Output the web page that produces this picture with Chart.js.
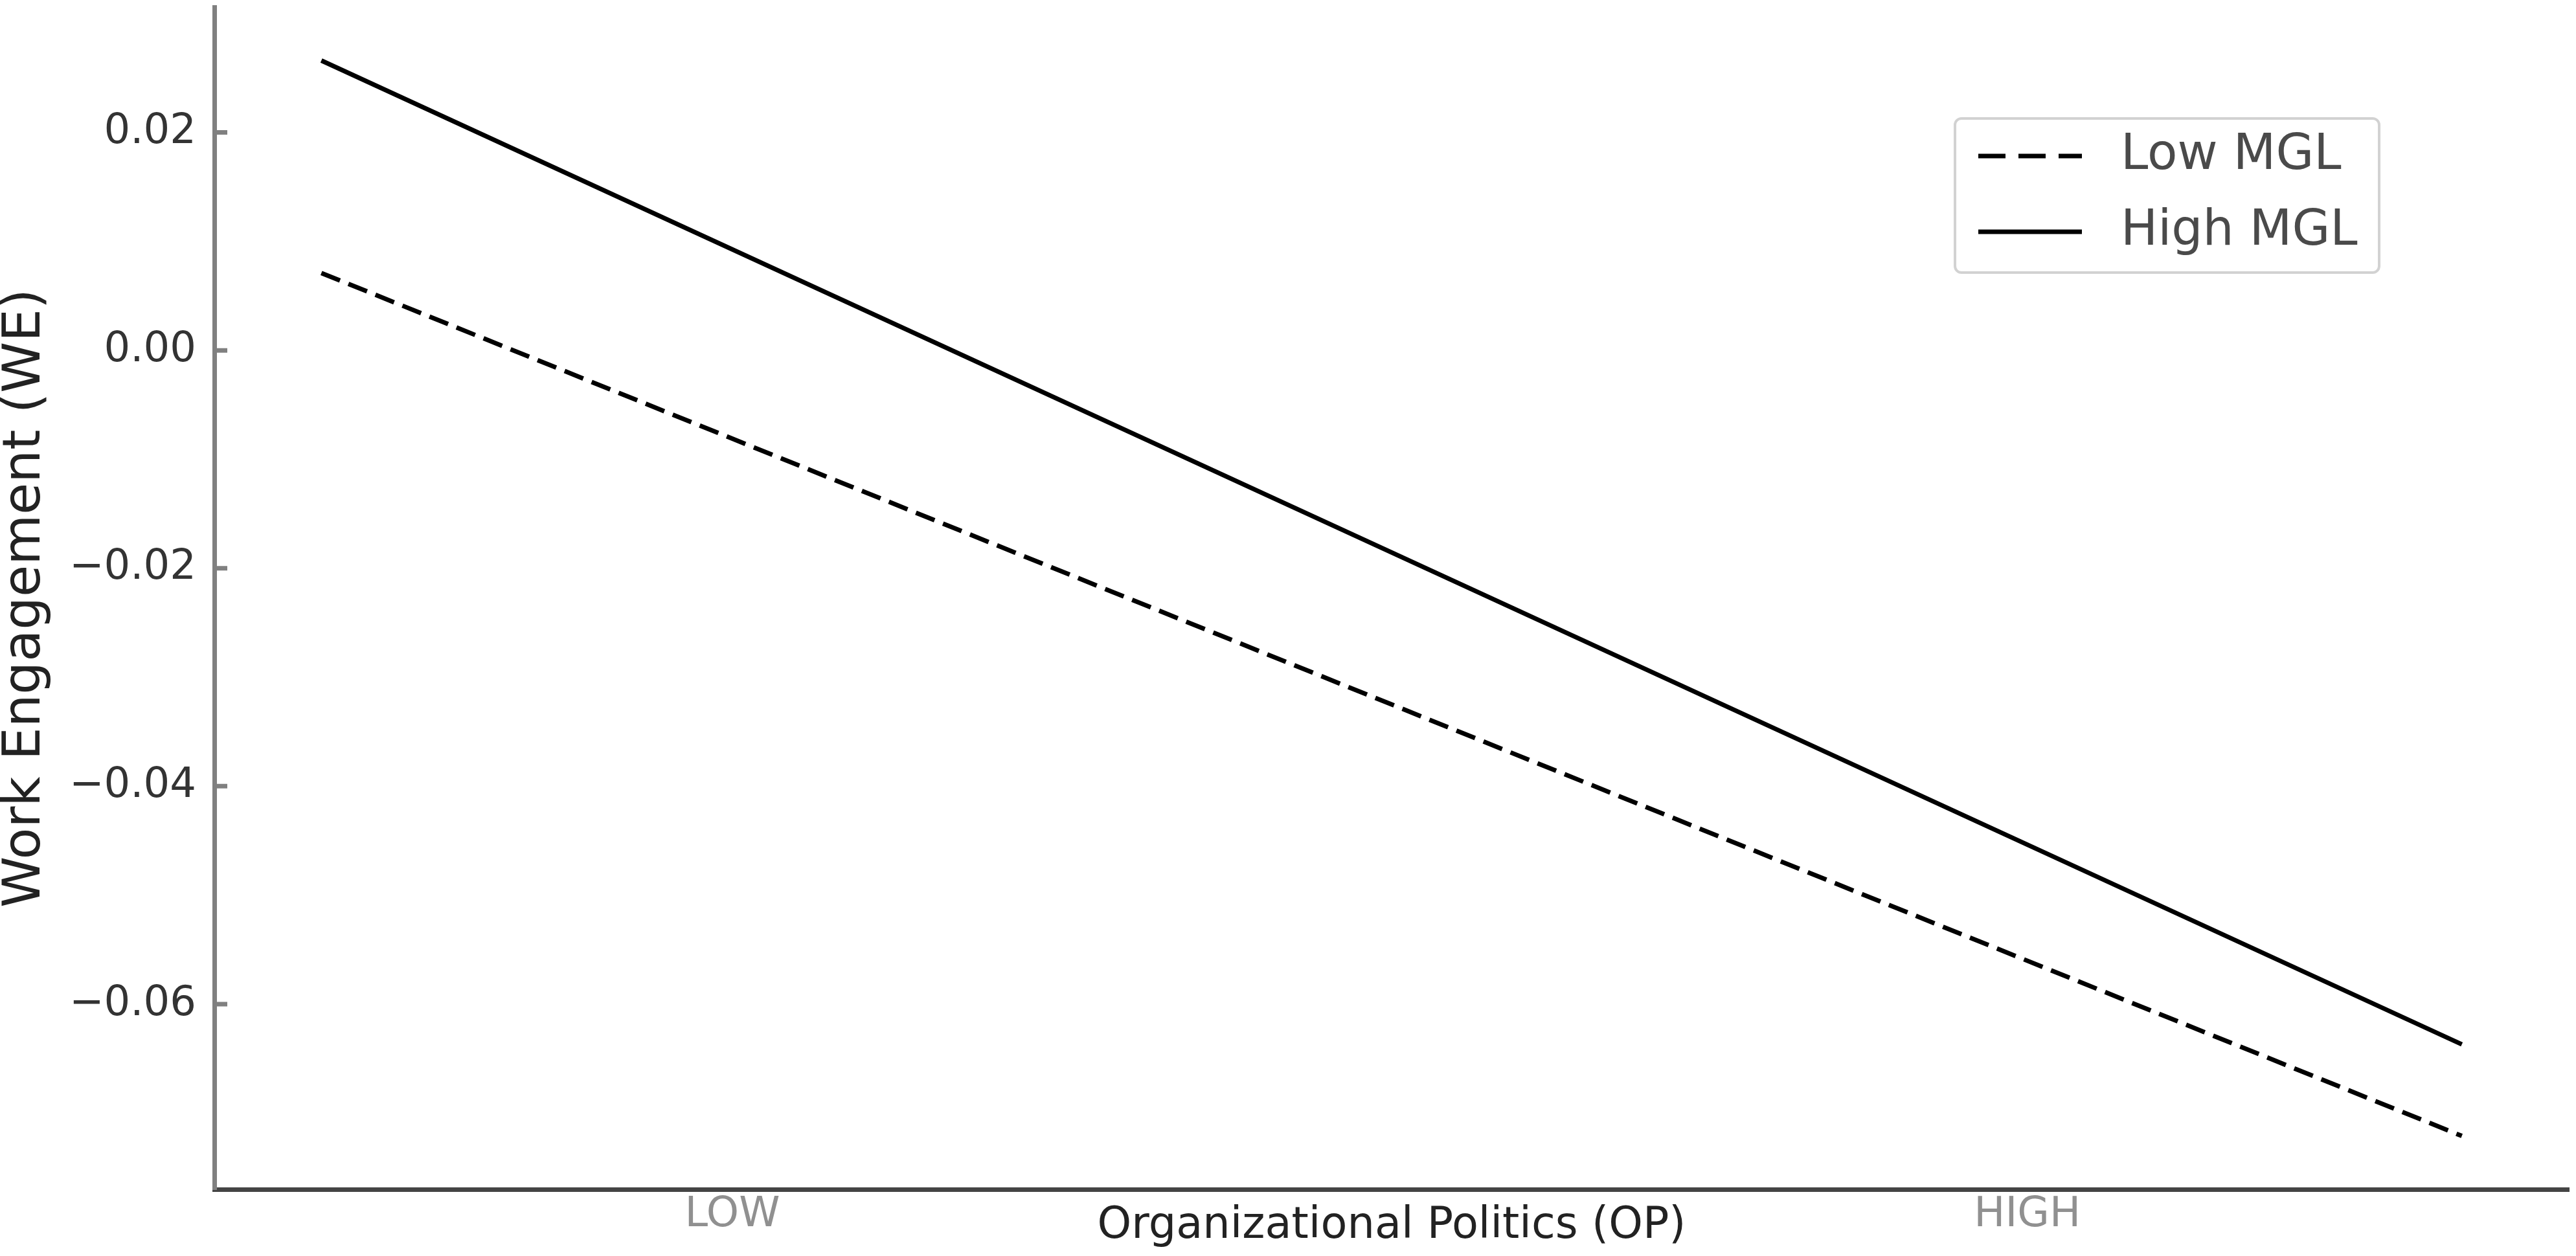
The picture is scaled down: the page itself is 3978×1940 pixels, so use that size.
<!DOCTYPE html>
<html lang="en">
<head>
  <meta charset="UTF-8">
  <title>Work Engagement by Organizational Politics</title>
  <script src="https://cdn.jsdelivr.net/npm/chart.js"></script>
  <style>
    html, body { margin: 0; padding: 0; background: #fff; }
    canvas { display: block; }
  </style>
</head>
<body>
<canvas id="weChart" width="3978" height="1940"></canvas>

<script>
  // values
  const opLevels = [0, 1];
  const lowMGL = [0.0071, -0.0721];
  const highMGL = [0.0266, -0.0637];
  const seriesNames = ["Low MGL", "High MGL"];

  const xTickValues = [0.192, 0.797];
  const xTickLabels = ["LOW", "HIGH"];
  const yTickValues = [-0.06, -0.04, -0.02, 0, 0.02];
  const xRange = [-0.05, 1.05];
  const yRange = [-0.0770, 0.0315];

  Chart.defaults.font.family = "'DejaVu Sans', sans-serif";

  // matplotlib style inward y ticks
  const inwardTicks = {
    id: 'inwardTicks',
    afterDraw(chart, args, opts) {
      const s = chart.scales.y;
      const ctx = chart.ctx;
      ctx.save();
      ctx.strokeStyle = opts.color;
      ctx.lineWidth = opts.width;
      ctx.beginPath();
      s.ticks.forEach(t => {
        const py = s.getPixelForValue(t.value);
        ctx.moveTo(s.right, py);
        ctx.lineTo(s.right + opts.length, py);
      });
      ctx.stroke();
      ctx.restore();
    }
  };

  // framed legend in the upper right corner
  const boxLegend = {
    id: 'boxLegend',
    afterDraw(chart, args, opts) {
      const ctx = chart.ctx;
      const area = chart.chartArea;
      const x = area.right - opts.offsetRight - opts.width;
      const y = area.top + opts.offsetTop;
      ctx.save();
      ctx.fillStyle = '#fff';
      ctx.strokeStyle = opts.borderColor;
      ctx.lineWidth = opts.borderWidth;
      ctx.beginPath();
      ctx.roundRect(x, y, opts.width, opts.height, opts.radius);
      ctx.fill();
      ctx.stroke();

      ctx.font = opts.fontSize + "px 'DejaVu Sans'";
      ctx.textBaseline = 'middle';
      ctx.fillStyle = opts.textColor;
      chart.data.datasets.forEach((ds, i) => {
        const rowY = y + opts.firstRow + i * opts.rowGap;
        ctx.beginPath();
        ctx.strokeStyle = ds.borderColor;
        ctx.lineWidth = opts.sampleWidth;
        ctx.setLineDash(ds.borderDash.length ? opts.sampleDash : []);
        ctx.moveTo(x + opts.samplePad, rowY);
        ctx.lineTo(x + opts.samplePad + opts.sampleLength, rowY);
        ctx.stroke();
        ctx.setLineDash([]);
        ctx.fillText(ds.label, x + opts.textPad, rowY);
      });
      ctx.restore();
    }
  };

  const weChart = new Chart(document.getElementById("weChart"), {
    type: 'line',
    data: {
      datasets: [
        {
          label: seriesNames[0],
          data: opLevels.map((x, i) => ({ x, y: lowMGL[i] })),
          borderColor: '#000',
          borderWidth: 7,
          borderDash: [31, 14],
          pointRadius: 0
        },
        {
          label: seriesNames[1],
          data: opLevels.map((x, i) => ({ x, y: highMGL[i] })),
          borderColor: '#000',
          borderWidth: 7,
          borderDash: [],
          pointRadius: 0
        }
      ]
    },
    options: {
      responsive: false,
      animation: false,
      layout: { padding: { top: 11, right: 11, left: 0, bottom: 0 } },
      plugins: {
        legend: { display: false },
        tooltip: { enabled: false },
        inwardTicks: { color: '#808080', width: 7, length: 20 },
        boxLegend: {
          offsetRight: 293, offsetTop: 172, width: 655, height: 238, radius: 10,
          borderColor: '#d2d2d2', borderWidth: 4,
          firstRow: 58, rowGap: 117,
          samplePad: 36, sampleLength: 160, sampleWidth: 7, sampleDash: [42, 20],
          textPad: 256, fontSize: 76, textColor: '#4a4a4a'
        }
      },
      scales: {
        x: {
          type: 'linear',
          min: xRange[0],
          max: xRange[1],
          afterFit: s => { s.height = 103; s.paddingLeft = 0; s.paddingRight = 0; },
          afterBuildTicks: s => { s.ticks = xTickValues.map(v => ({ value: v })); },
          grid: { display: false, drawTicks: false },
          border: { display: true, color: '#444', width: 7 },
          ticks: {
            padding: 2,
            maxRotation: 0,
            autoSkip: false,
            color: '#909090',
            font: { size: 64 },
            callback: (v, i) => xTickLabels[i]
          },
          title: {
            display: true,
            text: 'Organizational Politics (OP)',
            color: '#222',
            font: { size: 67, lineHeight: 1.2 },
            padding: { top: 0, bottom: 5 }
          }
        },
        y: {
          min: yRange[0],
          max: yRange[1],
          afterFit: s => { s.width = 331; s.paddingTop = 0; s.paddingBottom = 0; },
          afterBuildTicks: s => { s.ticks = yTickValues.map(v => ({ value: v })); },
          grid: { display: false, drawTicks: false },
          border: { display: true, color: '#808080', width: 7 },
          ticks: {
            padding: 28,
            color: '#333',
            font: { size: 64 },
            callback: v => (v < 0 ? '\u2212' : '') + Math.abs(v).toFixed(2)
          },
          title: {
            display: true,
            text: 'Work Engagement (WE)',
            color: '#222',
            font: { size: 80, lineHeight: 1.0 },
            padding: { top: 0, bottom: 0 }
          }
        }
      }
    },
    plugins: [inwardTicks, boxLegend]
  });
</script>
</body>
</html>
